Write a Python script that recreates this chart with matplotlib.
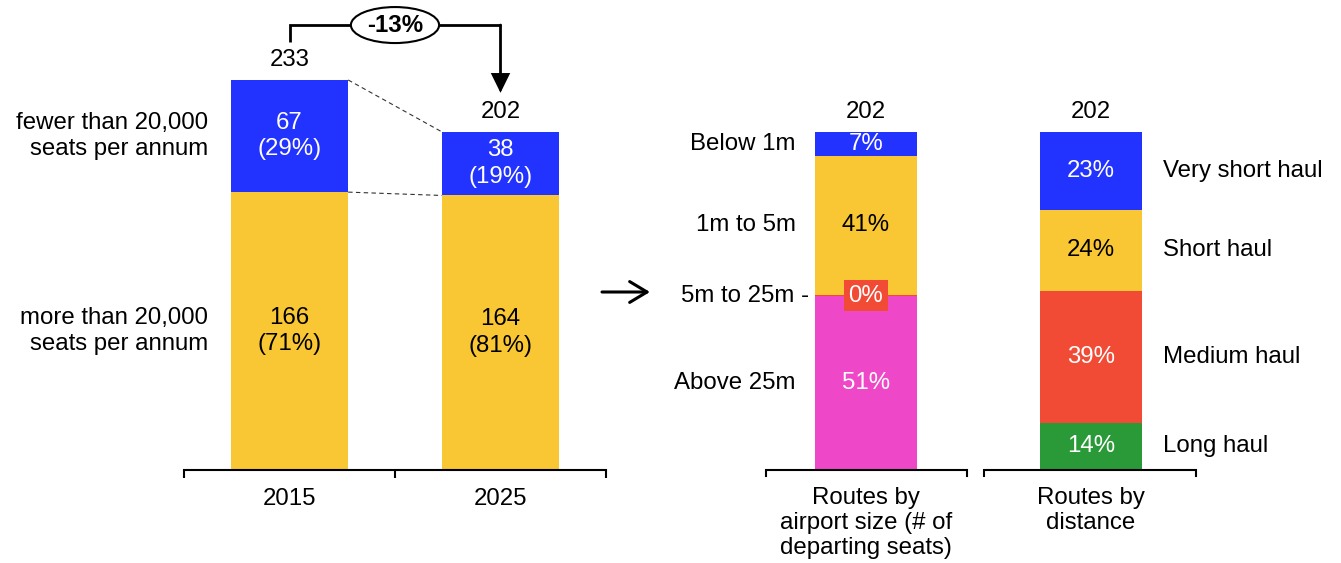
import matplotlib
matplotlib.use('Agg')
import matplotlib.pyplot as plt
from matplotlib.patches import Ellipse
import matplotlib.transforms as mtrans

# ---------------- data ----------------
years = ['2015', '2025']
more_than = [166, 164]
fewer_than = [67, 38]
row_labels = ['more than 20,000\nseats per annum', 'fewer than 20,000\nseats per annum']

groups = ['Routes by\nairport size (# of\ndeparting seats)', 'Routes by\ndistance']
group_totals = [202, 202]
size_cats = ['Above 25m', '5m to 25m', '1m to 5m', 'Below 1m']      # bottom -> top
size_share = [51.4, 0.4, 41.2, 7.0]
dist_cats = ['Long haul', 'Medium haul', 'Short haul', 'Very short haul']  # bottom -> top
dist_share = [14, 39, 24, 23]

# ---------------- style ----------------
BLUE = '#2233FF'
YELLOW = '#F9C733'
RED = '#F14A35'
MAGENTA = '#EE48C8'
GREEN = '#2A9A38'
plt.rcParams['font.family'] = ['Liberation Sans', 'DejaVu Sans']
FS = 17.3
LS = 1.28
LS2 = 1.18

W, H = 1341, 563
fig = plt.figure(figsize=(W / 100, H / 100), dpi=100)

# ---------------- left panel ----------------
PX = 1.674  # pixels per route
ax1 = fig.add_axes([184 / W, 93 / H, 422 / W, 470 / H])
ax1.set_xlim(-0.5, 1.5)
ax1.set_ylim(0, 470 / PX)
x = [0, 1]
bw = 0.556
ax1.bar(x, more_than, width=bw, color=YELLOW, zorder=2)
ax1.bar(x, fewer_than, width=bw, bottom=more_than, color=BLUE, zorder=2)
totals = [a + b for a, b in zip(more_than, fewer_than)]
for i in x:
    t = totals[i]
    ax1.text(i, more_than[i] / 2, f"{more_than[i]}\n({round(100 * more_than[i] / t)}%)",
             ha='center', va='center', fontsize=FS, color='black', linespacing=LS)
    ax1.text(i, more_than[i] + fewer_than[i] / 2,
             f"{fewer_than[i]}\n({round(100 * fewer_than[i] / t)}%)",
             ha='center', va='center', fontsize=FS, color='white', linespacing=LS)
    ax1.text(i, t + 12, f"{t}", ha='center', va='center', fontsize=FS)

# row labels next to 2015 bar
ax1.text(-0.387, more_than[0] / 2, row_labels[0], ha='right', va='center',
         fontsize=FS, linespacing=LS)
ax1.text(-0.387, more_than[0] + fewer_than[0] / 2, row_labels[1], ha='right',
         va='center', fontsize=FS, linespacing=LS)

# dashed connectors
ax1.plot([bw / 2, 1 - bw / 2], [totals[0], totals[1]], ls=(0, (4, 3)), lw=0.8,
         color='#333333', zorder=1)
ax1.plot([bw / 2, 1 - bw / 2], [more_than[0], more_than[1]], ls=(0, (4, 3)), lw=0.8,
         color='#333333', zorder=1)

# change bracket
top_y = totals[0] + 32.8
ax1.plot([0, 0, 1], [totals[0] + 22.7, top_y, top_y], color='black', lw=2,
         clip_on=False, solid_capstyle='butt', solid_joinstyle='miter')
ax1.annotate('', xy=(1, totals[1] + 23.3), xytext=(1, top_y),
             arrowprops=dict(arrowstyle='-|>,head_length=0.55,head_width=0.27',
                             lw=2, color='black', shrinkA=0, shrinkB=0,
                             mutation_scale=20, joinstyle='miter'),
             annotation_clip=False)
change = round(100 * (totals[1] - totals[0]) / totals[0])
ell = Ellipse((0.5, top_y), 0.418, 36 / PX, fc='white', ec='black', lw=1.5,
              zorder=5, clip_on=False)
ax1.add_patch(ell)
ax1.text(0.5, top_y, f"{change}%", ha='center', va='center', fontsize=FS,
         fontweight='bold', zorder=6)

for s in ['top', 'right', 'left']:
    ax1.spines[s].set_visible(False)
ax1.spines['bottom'].set_linewidth(1.5)
ax1.set_yticks([])
ax1.set_xticks(x)
ax1.set_xticklabels(years, fontsize=FS)
ax1.set_xticks([-0.5, 0.5, 1.5], minor=True)
ax1.tick_params(axis='x', which='major', length=0, pad=13)
ax1.tick_params(axis='x', which='minor', length=6, width=1.5, direction='out')

# ---------------- right panel ----------------
ax2 = fig.add_axes([766 / W, 93 / H, 430 / W, 470 / H])
ax2.set_xlim(-0.444, 1.467)
ax2.set_ylim(0, 100 * 470 / 338)
rb = 0.455
size_colors = [MAGENTA, RED, YELLOW, BLUE]
dist_colors = [GREEN, RED, YELLOW, BLUE]
txt_col = {BLUE: 'white', RED: 'white', MAGENTA: 'white', GREEN: 'white', YELLOW: 'black'}

def stack(xpos, shares, colors, cats, side):
    bottom = 0
    for v, c, cat in zip(shares, colors, cats):
        ax2.bar(xpos, v, width=rb, bottom=bottom, color=c, zorder=2)
        mid = bottom + v / 2
        lab = f"{round(v)}%"
        if v < 1:
            ax2.text(xpos, mid, lab, ha='center', va='center', fontsize=FS,
                     color='white', zorder=4,
                     bbox=dict(boxstyle='square,pad=0.18', fc=c, ec='none'))
        else:
            ax2.text(xpos, mid, lab, ha='center', va='center', fontsize=FS,
                     color=txt_col[c], zorder=4)
        if side == 'left':
            if v < 1:
                ax2.text(xpos - 0.253, mid, cat + ' -', ha='right', va='center', fontsize=FS)
            else:
                ax2.text(xpos - 0.311, mid, cat, ha='right', va='center', fontsize=FS)
        else:
            ax2.text(xpos + 0.32, mid, cat, ha='left', va='center', fontsize=FS)
        bottom += v
    return bottom

stack(0, size_share, size_colors, size_cats, 'left')
stack(1, dist_share, dist_colors, dist_cats, 'right')
for i, t in enumerate(group_totals):
    ax2.text(i, 100 + 5.9, f"{t}", ha='center', va='center', fontsize=FS)

for s in ax2.spines.values():
    s.set_visible(False)
ax2.set_yticks([])
ax2.set_xticks([])
blend = mtrans.blended_transform_factory(ax2.transData, ax2.transAxes)
tk = 6 / 470
for x0, x1 in [(-0.444, 0.45), (0.525, 1.467)]:
    ax2.plot([x0, x0, x1, x1], [-tk, 0, 0, -tk], color='black', lw=1.5,
             transform=blend, clip_on=False, solid_joinstyle='miter')
for i, g in enumerate(groups):
    ax2.text(i, -17 / 470, g, ha='center', va='top', fontsize=FS,
             transform=blend, linespacing=LS2)

# connecting arrow between panels
fig.add_artist(matplotlib.text.Annotation(
    '', xy=(650, H - 292), xytext=(602, H - 292),
    xycoords='figure pixels', textcoords='figure pixels',
    arrowprops=dict(arrowstyle='->,head_length=0.5,head_width=0.3', lw=2.2,
                    color='black', mutation_scale=25, shrinkA=0, shrinkB=0)))

fig.savefig('out.png', dpi=100)
